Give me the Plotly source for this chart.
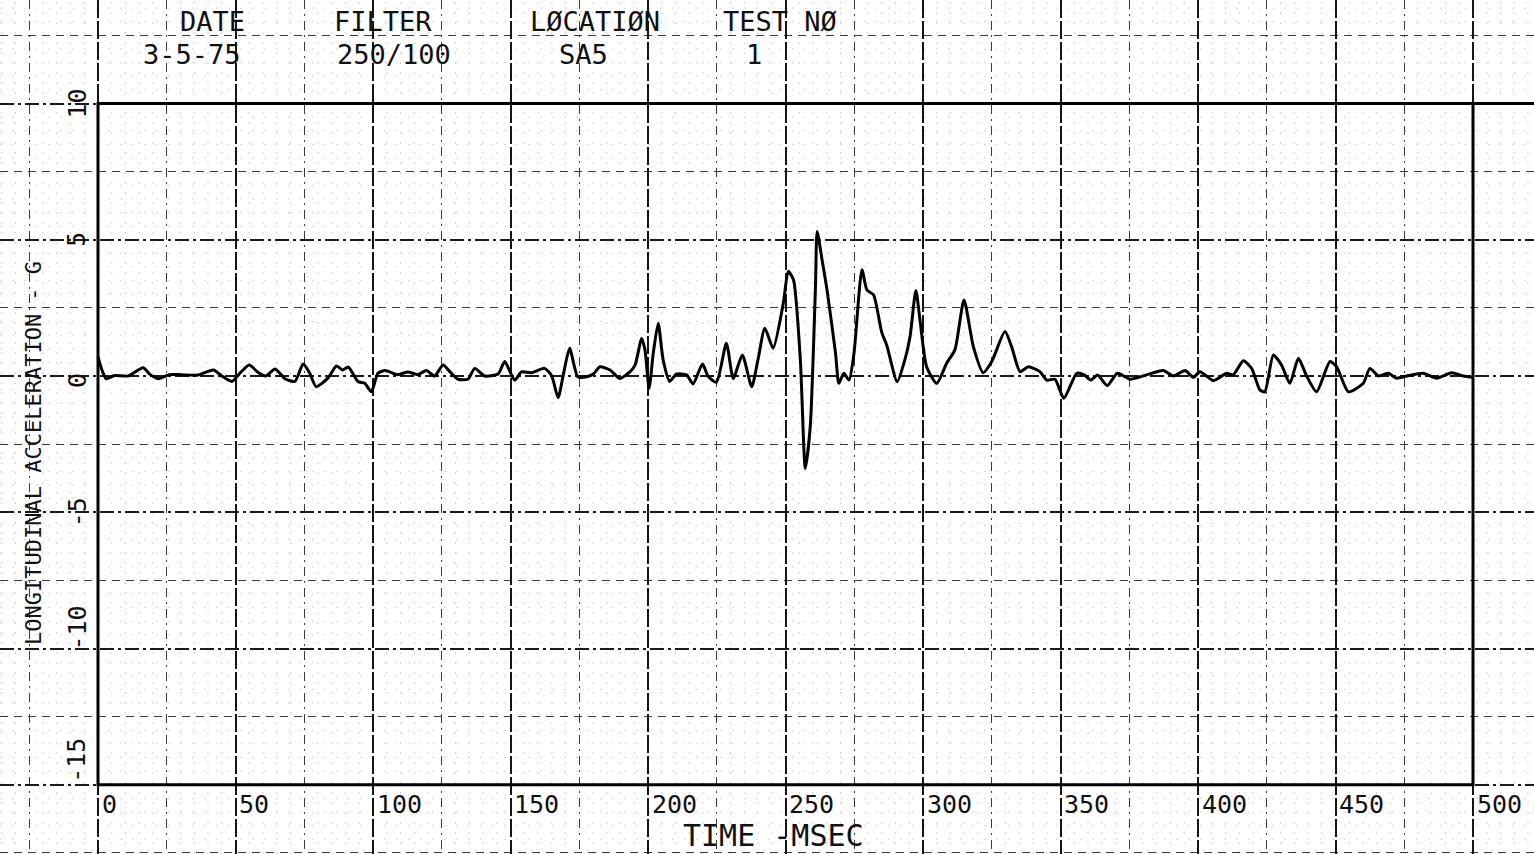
import plotly.graph_objects as go

# ---------------- data ----------------
time_ms = [0, 1.5, 3, 6, 11, 16.4, 19, 22, 26, 30, 36, 42, 45, 48.7, 52, 55, 58, 61, 64.4, 68,
           71.6, 74.6, 77, 79.3, 83.6, 86.7, 89, 91, 94.5, 97, 99.4, 101.8, 104.4, 109, 112.7, 116.3, 119.4, 122.4, 125.5, 128,
           130.9, 134.5, 137, 140.6, 145.5, 147.9, 151.5, 154, 157.6, 162.4, 165, 167.3, 169.5, 171.5, 174.5, 178, 180.1, 182.5, 186.2, 189.8,
           193.5, 195.3, 197.7, 198.9, 200.4, 201.9, 203.7, 205.5, 207.9, 210.3, 214, 216.4, 219.8, 221.9, 224.9, 228.5, 231, 234.3, 237.7, 240,
           242.5, 245.5, 249.2, 251, 252.9, 255.4, 257.2, 259, 260.9, 261.5, 263.3, 265.1, 268.2, 269.4, 271.2, 273.1, 274.9, 277.8, 279.6, 282,
           285, 286.8, 290.6, 293.4, 295.3, 297.4, 298.9, 301.3, 305, 308.6, 311.6, 314.9, 318.3, 321.9, 325, 329.8, 332.2, 335.3, 338.3, 342.5,
           345, 348, 351.2, 355.9, 358.6, 361, 363.5, 367, 370.7, 375.3, 381.3, 387.4, 391, 395.3, 398.3, 400.7, 405.6, 410.4, 412.8, 416.5,
           419.5, 422.5, 424.3, 427.4, 430.4, 433.4, 436.5, 439.5, 443.1, 448, 450.4, 454.7, 460.1, 462.5, 465.6, 469.2, 472.2, 475.9, 481.9, 486.8,
           492.2, 496.5, 500]
accel_g = [0.7, 0.2, -0.1, 0.02, 0.0, 0.3, 0.05, -0.1, 0.05, 0.05, 0.03, 0.22, 0.0, -0.2, 0.15, 0.4, 0.15, 0.0, 0.26, -0.1,
           -0.2, 0.44, 0.1, -0.39, -0.08, 0.37, 0.22, 0.33, -0.2, -0.27, -0.58, 0.1, 0.2, 0.05, 0.15, 0.05, 0.2, 0.0, 0.4, 0.15,
           -0.12, -0.12, 0.28, 0.0, 0.07, 0.53, -0.15, 0.15, 0.12, 0.28, 0.0, -0.8, 0.2, 1.02, -0.03, -0.02, 0.07, 0.34, 0.22, -0.09,
           0.16, 0.4, 1.38, 0.96, -0.45, 0.83, 1.94, 0.59, -0.2, 0.07, 0.04, -0.29, 0.44, -0.02, -0.23, 1.2, -0.09, 0.77, -0.39, 0.6,
           1.75, 1.02, 2.67, 3.84, 3.53, 0.59, -3.39, -1.86, 3.28, 5.3, 4.26, 3.16, 0.83, -0.27, 0.1, -0.15, 0.83, 3.9, 3.16, 2.98,
           1.6, 1.14, -0.21, 0.59, 1.45, 3.14, 2.06, 0.34, -0.27, 0.47, 0.96, 2.79, 1.08, 0.12, 0.53, 1.63, 1.08, 0.16, 0.34, 0.16,
           -0.15, -0.12, -0.82, 0.1, 0.04, -0.15, 0.04, -0.35, 0.1, -0.12, 0.04, 0.2, 0.0, 0.2, -0.05, 0.16, -0.17, 0.1, 0.04, 0.56,
           0.28, -0.51, -0.58, 0.77, 0.4, -0.27, 0.65, 0.0, -0.58, 0.53, 0.34, -0.58, -0.27, 0.28, 0.0, 0.1, -0.08, 0.0, 0.1, -0.08,
           0.12, 0.0, -0.05]

x_tick_vals = [0, 50, 100, 150, 200, 250, 300, 350, 400, 450, 500]
x_tick_text = ["0", "50", "100", "150", "200", "250", "300", "350", "400", "450", "500"]
y_tick_vals = [10, 5, 0, -5, -10, -15]
y_tick_text = ["10", "5", "0", "-5", "-10", "-15"]

header_labels = ["DATE", "FILTER", "LØCATIØN", "TEST NØ"]
header_values = ["3-5-75", "250/100", "SA5", "1"]
x_title = "TIME -MSEC"
y_title = "LONGITUDINAL ACCELERATION - G"

# ---------------- layout parameters ----------------
W, H = 1534, 854
X0_PX, PX_PER_MS = 98, 2.75
Y0_PX, PX_PER_G = 376, 27.25
x_range = [-X0_PX / PX_PER_MS, (W - X0_PX) / PX_PER_MS]
y_range = [(Y0_PX - H) / PX_PER_G, Y0_PX / PX_PER_G]
x_min, x_max = 0, 500
y_min, y_max = -15, 10

header_label_px = [212, 383, 595, 780]
header_value_px = [192, 394, 583, 754]
header_rows_px = [21, 55]
y_label_shift_px = [0, 0, -5, 0, 20, 24]

FONT = "DejaVu Sans Mono"
INK = "#111111"

fig = go.Figure()
fig.add_trace(go.Scatter(x=time_ms, y=accel_g, mode="lines",
                         line=dict(color="#000000", width=3, shape="spline", smoothing=0.6),
                         hoverinfo="skip", showlegend=False))

shapes = []
# fine dotted grid (5 ms, 0.5 G)
t = x_range[0] - (x_range[0] % 5)
while t <= x_range[1]:
    if abs(t % 25) > 1e-6:
        shapes.append(dict(type="line", xref="x", yref="paper", x0=t, x1=t, y0=0, y1=1,
                           line=dict(color="#d0d0d0", width=1, dash="2px,8px"), layer="below"))
    t += 5
g = -17.5
while g <= y_range[1]:
    if abs((g * 10) % 25) > 1e-6:
        shapes.append(dict(type="line", xref="paper", yref="y", x0=0, x1=1, y0=g, y1=g,
                           line=dict(color="#d5d5d5", width=1, dash="2px,10px"), layer="below"))
    g += 0.5

# frame (axes box) and extension of the top line
shapes.append(dict(type="rect", xref="x", yref="y", x0=x_min, x1=x_max, y0=y_min, y1=y_max,
                   line=dict(color="#000000", width=3), layer="above"))
shapes.append(dict(type="line", xref="x", yref="y", x0=x_max, x1=x_range[1], y0=y_max, y1=y_max,
                   line=dict(color="#000000", width=3), layer="above"))

annotations = []
tick_font = dict(family=FONT, size=25, color=INK)
for v, txt in zip(x_tick_vals, x_tick_text):
    annotations.append(dict(x=v + 0.6, y=-15.72, xref="x", yref="y", text=txt, showarrow=False,
                            xanchor="left", yanchor="middle", font=tick_font))
for v, txt, sh in zip(y_tick_vals, y_tick_text, y_label_shift_px):
    annotations.append(dict(x=-7.6, y=v, xref="x", yref="y", text=txt, showarrow=False,
                            textangle=-90, xanchor="center", yanchor="middle", yshift=sh, font=tick_font))

head_font = dict(family=FONT, size=27, color=INK)
for lab, val, lx, vx in zip(header_labels, header_values, header_label_px, header_value_px):
    annotations.append(dict(x=lx / W, y=1 - header_rows_px[0] / H, xref="paper", yref="paper", text=lab,
                            showarrow=False, xanchor="center", yanchor="middle", font=head_font))
    annotations.append(dict(x=vx / W, y=1 - header_rows_px[1] / H, xref="paper", yref="paper", text=val,
                            showarrow=False, xanchor="center", yanchor="middle", font=head_font))

annotations.append(dict(x=773 / W, y=1 - 835 / H, xref="paper", yref="paper", text=x_title, showarrow=False,
                        xanchor="center", yanchor="middle", font=dict(family=FONT, size=30, color=INK)))
annotations.append(dict(x=33 / W, y=1 - 453 / H, xref="paper", yref="paper", text=y_title, showarrow=False,
                        textangle=-90, xanchor="center", yanchor="middle",
                        font=dict(family=FONT, size=22, color=INK)))

fig.update_layout(
    width=W, height=H, autosize=False,
    margin=dict(l=0, r=0, t=0, b=0, pad=0),
    paper_bgcolor="white", plot_bgcolor="white",
    showlegend=False,
    shapes=shapes, annotations=annotations,
    xaxis=dict(range=x_range, showticklabels=False, ticks="", zeroline=False, showline=False,
               showgrid=True, tick0=0, dtick=50, gridcolor="#151515", gridwidth=2, griddash="18px,3px",
               minor=dict(showgrid=True, tick0=0, dtick=25, gridcolor="#3a3a3a", gridwidth=1.3,
                          griddash="9px,5px,2px,5px")),
    yaxis=dict(range=y_range, showticklabels=False, ticks="", zeroline=False, showline=False,
               showgrid=True, tick0=0, dtick=5, gridcolor="#1a1a1a", gridwidth=1.7, griddash="14px,4px,3px,4px",
               minor=dict(showgrid=True, tick0=0, dtick=2.5, gridcolor="#3a3a3a", gridwidth=1.2,
                          griddash="8px,6px")),
)

fig.write_html("out.html")
